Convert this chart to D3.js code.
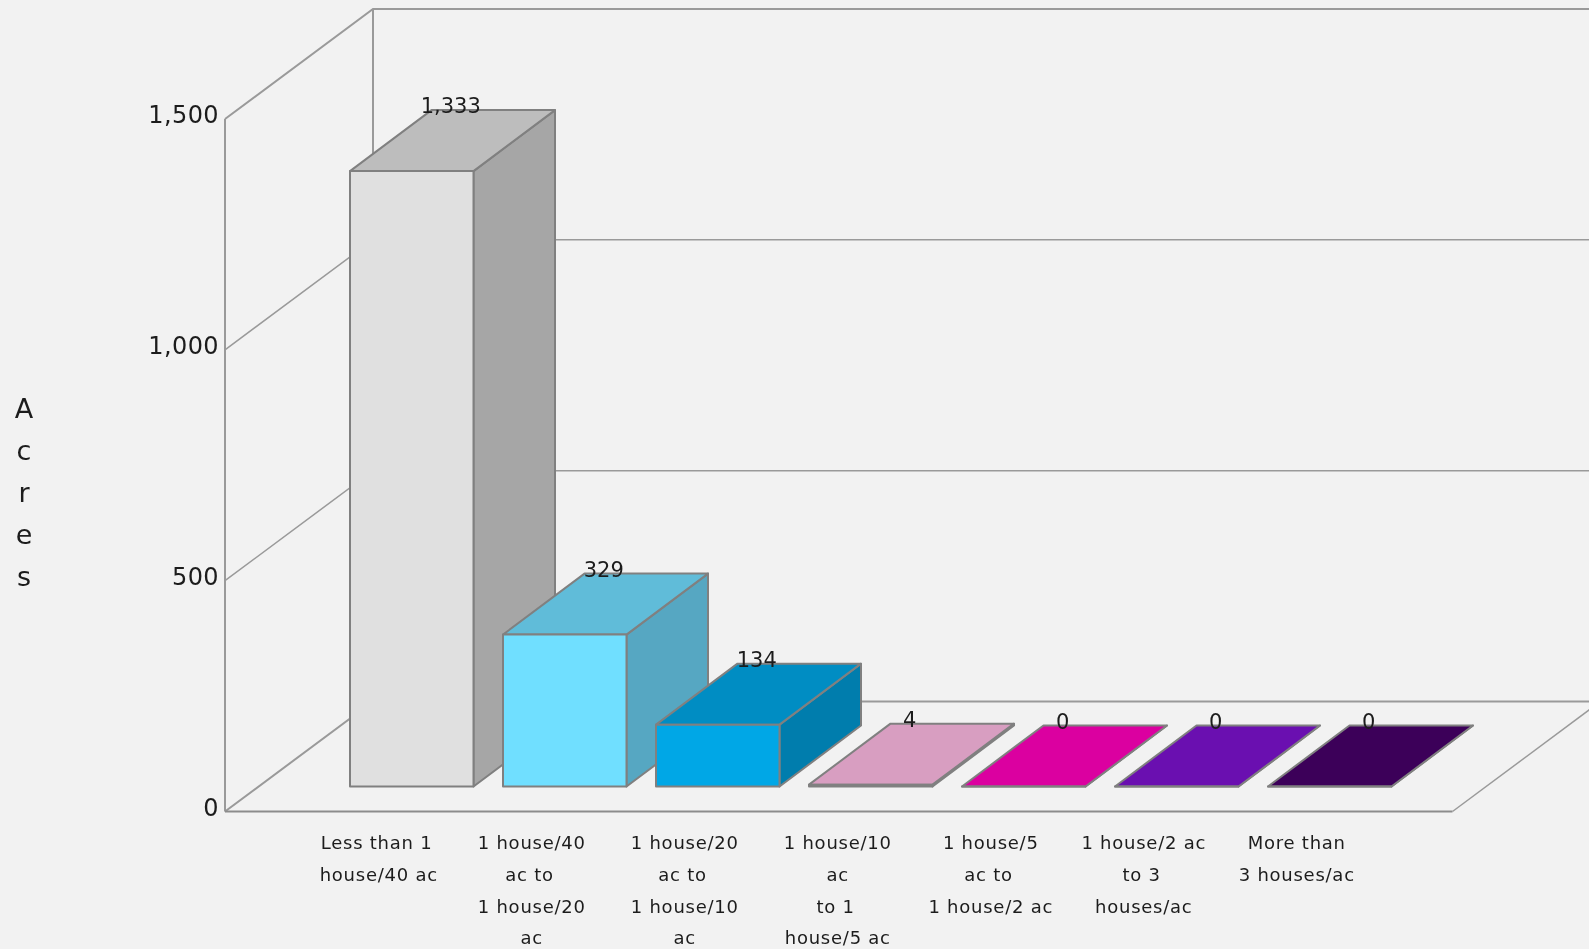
<!DOCTYPE html>
<html>
<head>
<meta charset="utf-8">
<script src="https://cdnjs.cloudflare.com/ajax/libs/d3/7.8.5/d3.min.js"></script>
<style>
html,body{margin:0;padding:0;background:#f2f2f2;overflow:hidden}
svg{display:block;filter:blur(0.45px)}
text{font-family:"DejaVu Sans",sans-serif;fill:#1c1c1c}
.cat text{white-space:pre}
</style>
</head>
<body>
<svg id="c" width="1589" height="949"></svg>
<script>
const categories = [
  ["Less than 1\u2009", "house/40 ac"],
  ["1 house/40", "ac to\u2009", "1 house/20", "ac"],
  ["1 house/20", "ac to\u2009", "1 house/10", "ac"],
  ["1 house/10", "ac", "to 1\u2009", "house/5 ac"],
  ["1 house/5", "ac to\u2009", "1 house/2 ac"],
  ["1 house/2 ac", "to 3\u2009", "houses/ac"],
  ["More than", "3 houses/ac"]
];
const values = [1333, 329, 134, 4, 0, 0, 0];
const valueLabels = ["1,333", "329", "134", "4", "0", "0", "0"];
const yTicks = [0, 500, 1000, 1500];
const frontColors = ["#e0e0e0", "#70dfff", "#00a7e6", "#d89ec1", "#db00a0", "#6a0fb0", "#3c0059"];
const topColors   = ["#bdbdbd", "#60bcd9", "#008dc3", "#d89ec1", "#db00a0", "#6a0fb0", "#3c0059"];
const sideColors  = ["#a6a6a6", "#56a7c2", "#007dad", "#d89ec1", "#db00a0", "#6a0fb0", "#3c0059"];
const yTitle = ["A", "c", "r", "e", "s"];

const W = 1589;
const plot = {left: 225, floorY: 811.5, right: 1452.5, wallDx: 148, wallDy: 110, baseY: 786.5, barDx: 81.5, barDy: 61};

const svg = d3.select("#c");
const idx = d3.range(values.length);
const y = d3.scaleLinear().domain([0, 1500]).range([0, 692.5]);
const x = d3.scaleBand().domain(idx).range([350, 1391.5]).paddingInner(0.1928).paddingOuter(0);
const lineC = "#9a9a9a";

const grid = svg.append("g").attr("fill", "none").attr("stroke", lineC);
yTicks.forEach(t => {
  const gy = plot.floorY - y(t);
  const sw = (t === 0 || t === 1500) ? 2 : 1.5;
  grid.append("path").attr("stroke-width", sw)
    .attr("d", d3.line()([[plot.left, gy], [plot.left + plot.wallDx, gy - plot.wallDy], [W + 5, gy - plot.wallDy]]));
});
[0, plot.wallDx].forEach((dx, i) => {
  grid.append("path").attr("stroke-width", 2)
    .attr("d", d3.line()([[plot.left + dx, plot.floorY - y(1500) - (i ? plot.wallDy : 0)], [plot.left + dx, plot.floorY - (i ? plot.wallDy : 0)]]));
});
grid.append("path").attr("stroke-width", 2).attr("stroke", "#8c8c8c")
  .attr("d", d3.line()([[plot.left, plot.floorY], [plot.right, plot.floorY]]));
grid.append("path").attr("stroke-width", 1.5)
  .attr("d", d3.line()([[plot.right, plot.floorY], [plot.right + plot.wallDx, plot.floorY - plot.wallDy]]));

const bars = svg.append("g").attr("stroke", "#808080").attr("stroke-width", 2).attr("stroke-linejoin", "round");
idx.forEach(i => {
  const x0 = x(i), x1 = x0 + x.bandwidth(), yb = plot.baseY, yt = plot.baseY - y(values[i]);
  const dx = plot.barDx, dy = plot.barDy;
  const g = bars.append("g");
  const poly = d3.line();
  g.append("path").attr("fill", sideColors[i]).attr("d", poly([[x1, yb], [x1 + dx, yb - dy], [x1 + dx, yt - dy], [x1, yt]]) + "Z");
  g.append("path").attr("fill", topColors[i]).attr("d", poly([[x0, yt], [x0 + dx, yt - dy], [x1 + dx, yt - dy], [x1, yt]]) + "Z");
  g.append("path").attr("fill", frontColors[i]).attr("d", poly([[x0, yb], [x0, yt], [x1, yt], [x1, yb]]) + "Z");
});

svg.append("g").selectAll("text").data(idx).join("text")
  .attr("x", i => x(i) + x.bandwidth() / 2 + 39)
  .attr("y", i => plot.baseY - y(values[i]) - plot.barDy + 3)
  .attr("text-anchor", "middle")
  .style("font-size", "21px")
  .text(i => valueLabels[i]);

const yAxisScale = d3.scaleLinear().domain([0, 1500]).range([plot.floorY, plot.floorY - 692.5]);
const yAxis = svg.append("g").attr("transform", "translate(225,0)")
  .call(d3.axisLeft(yAxisScale).tickValues(yTicks).tickSize(0).tickPadding(6).tickFormat(d3.format(",")));
yAxis.select(".domain").remove();
yAxis.selectAll("text").style("font-size", "24px").style("letter-spacing", "0.4px").attr("fill", null).attr("dy", "0.16em");

const xAxis = svg.append("g").attr("class", "cat").attr("transform", "translate(-33,820)")
  .call(d3.axisBottom(x).tickSize(0).tickFormat(""));
xAxis.select(".domain").remove();
xAxis.selectAll(".tick").each(function(i) {
  const t = d3.select(this).select("text").attr("y", null).attr("dy", null)
    .style("font-size", "18px").style("letter-spacing", "0.75px").attr("fill", null);
  categories[i].forEach((ln, k) => {
    t.append("tspan").attr("x", 0).attr("y", 29 + [0, 32, 64, 95][k]).text(ln);
  });
});

svg.append("g").selectAll("text").data(yTitle).join("text")
  .attr("x", 24).attr("y", (d, i) => 417.5 + i * 42.1)
  .attr("text-anchor", "middle").style("font-size", "27px").text(d => d);
</script>
</body>
</html>
